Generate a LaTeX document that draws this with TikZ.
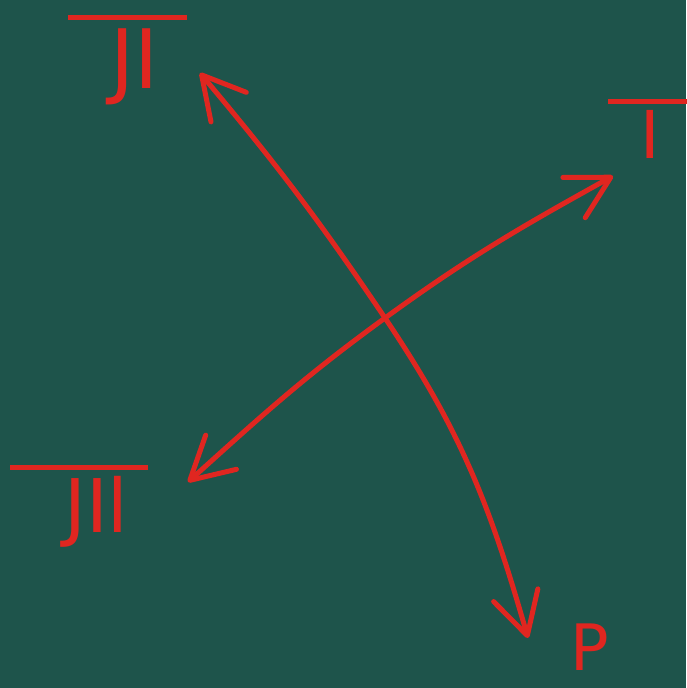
\documentclass[tikz,border=0pt]{standalone}
\usepackage{fontspec}
\setmainfont{DejaVu Sans}
\usepackage{tikz}
\usetikzlibrary{arrows.meta}
\definecolor{boardgreen}{RGB}{30,84,75}
\definecolor{chalkred}{RGB}{224,38,32}
% text under a long bar: left gap, letters, right gap
\newcommand{\barlbl}[4]{\vbox{\hrule height 5pt\kern #4\hbox{\hspace*{#1}#2\hspace*{#3}}}}

\begin{document}
\begin{tikzpicture}[x=1pt, y=1pt,
    >={Straight Barb[length=42pt,width=46pt,round]},
    axisline/.style={draw=chalkred, line width=5pt, line cap=round, <->},
    lbl/.style={text=chalkred, inner sep=0pt, anchor=north west, font=\fontsize{#1}{#1}\selectfont}
  ]
  % board
  \fill[boardgreen] (0,0) rectangle (686,-688);
  \useasboundingbox (0,0) rectangle (686,-688);

  % arrow tips and crossing
  \coordinate (tipTL) at (200,-73);
  \coordinate (tipBR) at (528,-638);
  \coordinate (tipBL) at (188,-482);
  \coordinate (tipTR) at (613,-176);
  \coordinate (cross) at (385,-318);

  % the two axes
  \draw[axisline] (tipTL) to[out=-50,in=124] (cross) to[out=-56,in=106] (tipBR);
  \draw[axisline] (tipBL) to[out=42,in=-144] (cross) to[out=36,in=-151] (tipTR);

  % labels
  \node[lbl=82] (labTL) at (68,-15) {\barlbl{42pt}{JI}{28pt}{9pt}};
  \node[lbl=66] (labTR) at (608,-99) {\barlbl{32pt}{I}{32pt}{6pt}};
  \node[lbl=74] (labBL) at (10,-465) {\barlbl{54pt}{JIl}{20pt}{6pt}};
  \node[lbl=64] (labBR) at (570,-624) {P};
\end{tikzpicture}
\end{document}
